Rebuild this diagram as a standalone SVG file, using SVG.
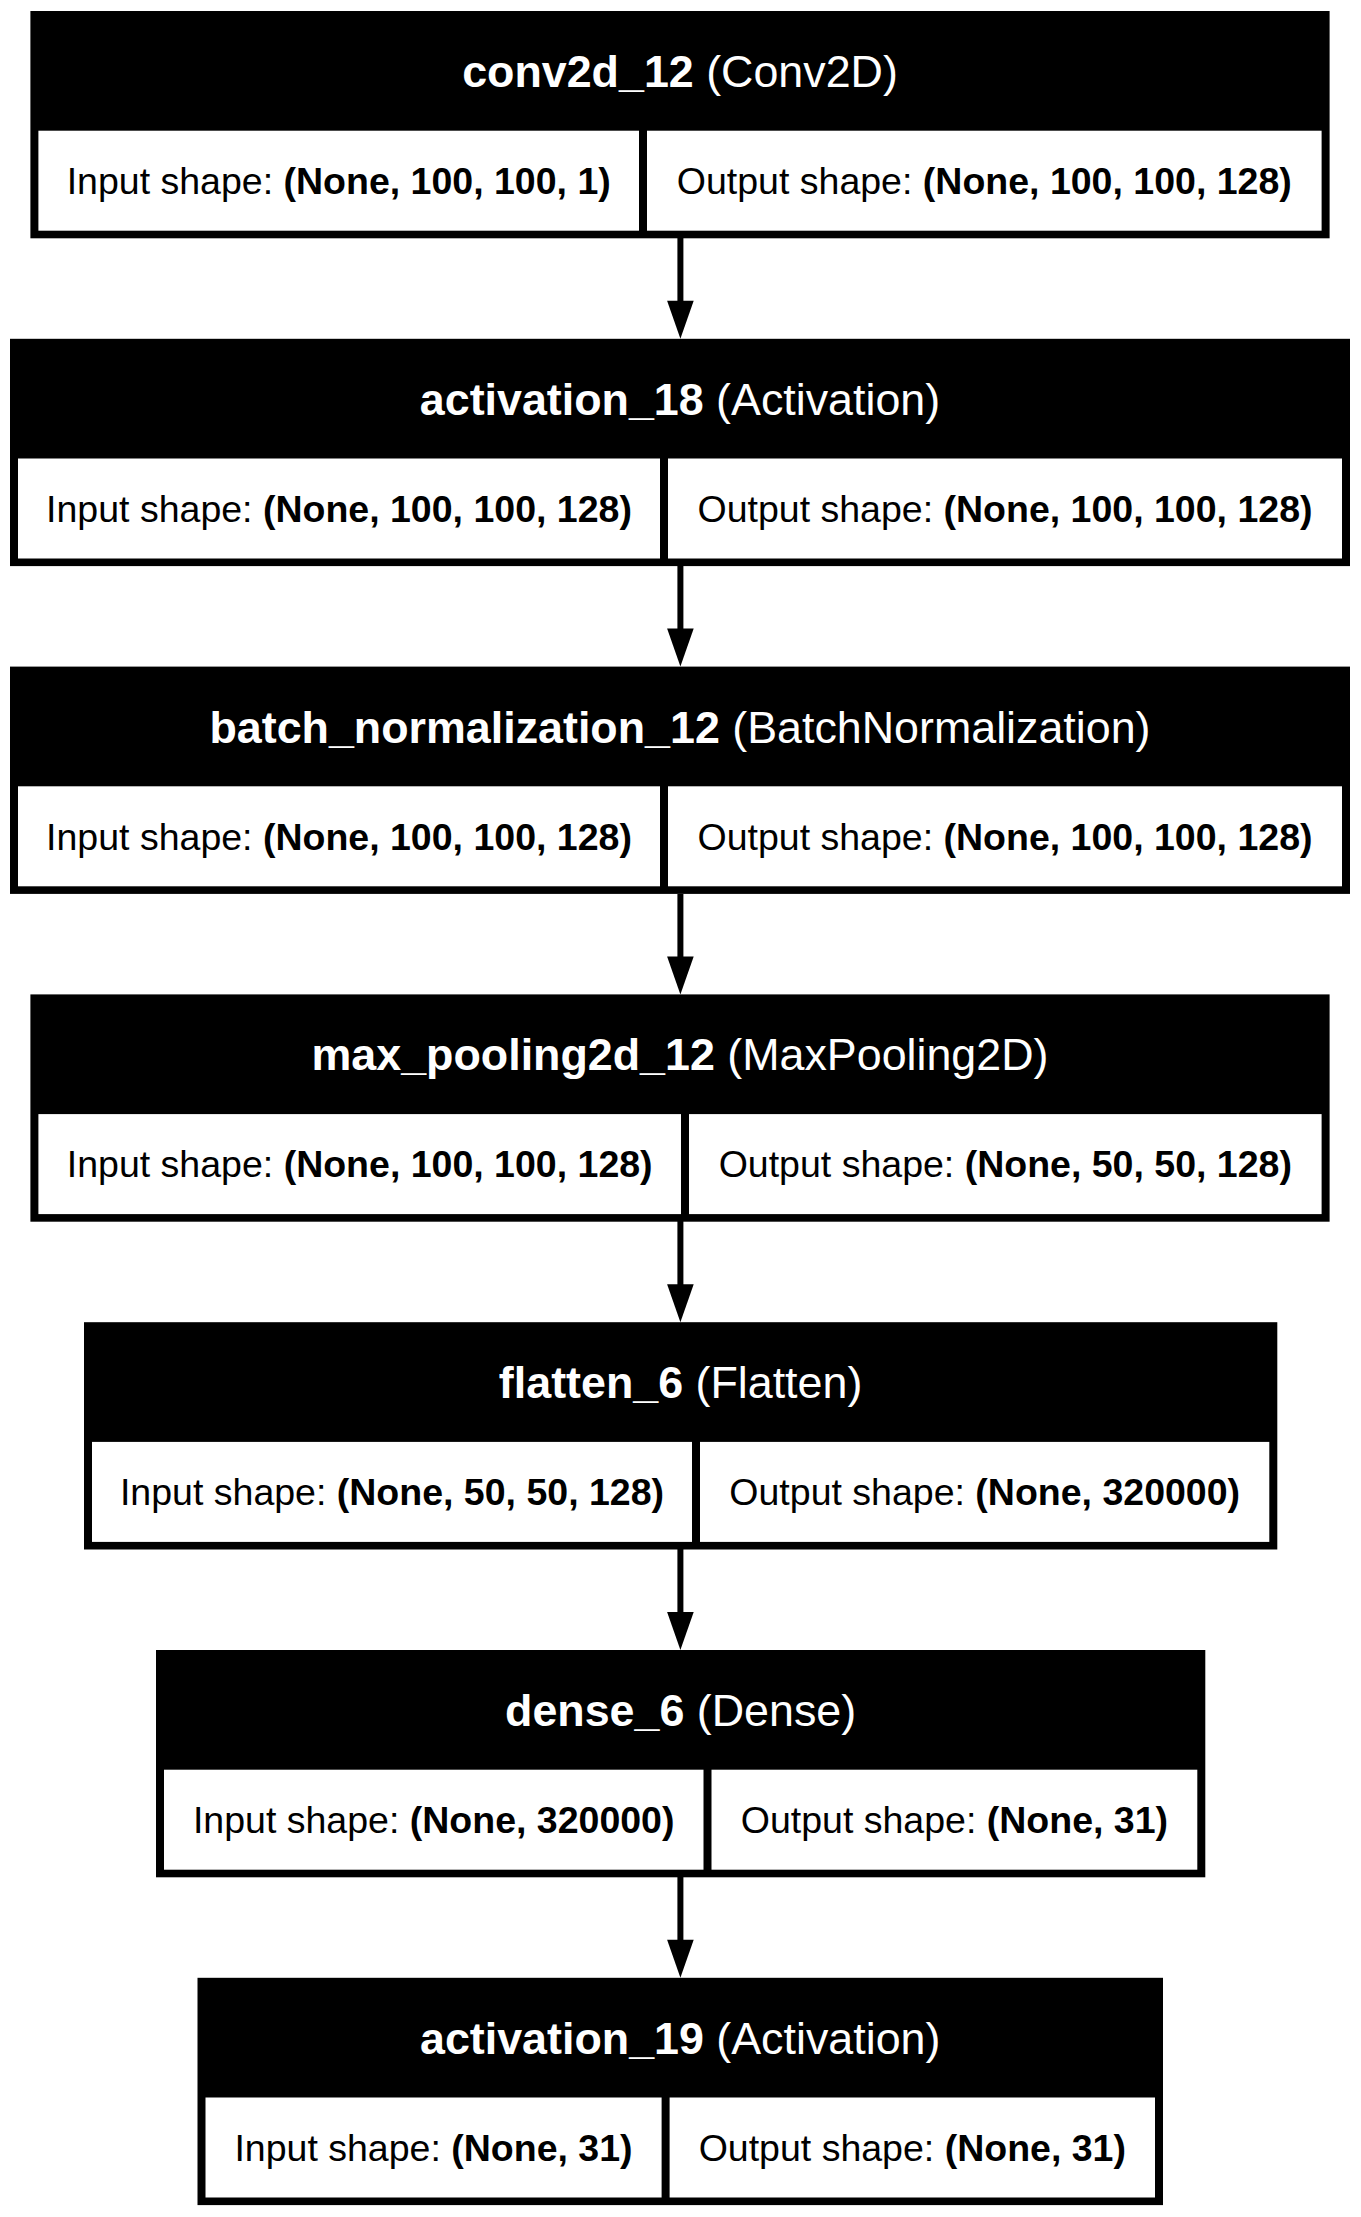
<svg xmlns="http://www.w3.org/2000/svg" width="1361" height="2217" viewBox="0 0 1361 2217">
<style>
.frame{fill:#000}
.cell{fill:#fff}
.hd{font-family:"Liberation Sans",Arial,Helvetica,sans-serif;font-size:44.8px;fill:#fff;text-anchor:middle}
.tx{font-family:"Liberation Sans",Arial,Helvetica,sans-serif;font-size:37.5px;fill:#000;text-anchor:middle}
.b{font-weight:bold}
.edge{stroke:#000;stroke-width:6;fill:none}
.head{fill:#000}
</style>
<rect width="1361" height="2217" fill="#fff"/>
<g id="connectors">
<line class="edge" x1="680.4" y1="238" x2="680.4" y2="301"/><polygon class="head" points="680.4,338.8 667.1,300.8 693.7,300.8"/>
<line class="edge" x1="680.4" y1="566" x2="680.4" y2="629"/><polygon class="head" points="680.4,666.6 667.1,628.6 693.7,628.6"/>
<line class="edge" x1="680.4" y1="894" x2="680.4" y2="957"/><polygon class="head" points="680.4,994.4 667.1,956.4 693.7,956.4"/>
<line class="edge" x1="680.4" y1="1221" x2="680.4" y2="1285"/><polygon class="head" points="680.4,1322.2 667.1,1284.2 693.7,1284.2"/>
<line class="edge" x1="680.4" y1="1549" x2="680.4" y2="1613"/><polygon class="head" points="680.4,1650 667.1,1612 693.7,1612"/>
<line class="edge" x1="680.4" y1="1877" x2="680.4" y2="1940"/><polygon class="head" points="680.4,1977.8 667.1,1939.8 693.7,1939.8"/>
</g>
<g id="conv2d_12">
<rect class="frame" x="30.4" y="11" width="1299.2" height="227.3"/>
<rect class="cell" x="38.4" y="130.7" width="600.6" height="100"/>
<rect class="cell" x="647" y="130.7" width="674.6" height="100"/>
<text class="hd" x="680" y="87"><tspan class="b">conv2d_12</tspan> (Conv2D)</text>
<text class="tx" x="338.7" y="194"><tspan>Input shape: </tspan><tspan class="b">(None, 100, 100, 1)</tspan></text>
<text class="tx" x="984.3" y="194"><tspan>Output shape: </tspan><tspan class="b">(None, 100, 100, 128)</tspan></text>
</g>
<g id="activation_18">
<rect class="frame" x="10" y="338.8" width="1340" height="227.3"/>
<rect class="cell" x="18" y="458.5" width="642" height="100"/>
<rect class="cell" x="668" y="458.5" width="674" height="100"/>
<text class="hd" x="680" y="414.8"><tspan class="b">activation_18</tspan> (Activation)</text>
<text class="tx" x="339" y="521.8"><tspan>Input shape: </tspan><tspan class="b">(None, 100, 100, 128)</tspan></text>
<text class="tx" x="1005" y="521.8"><tspan>Output shape: </tspan><tspan class="b">(None, 100, 100, 128)</tspan></text>
</g>
<g id="batch_normalization_12">
<rect class="frame" x="10" y="666.6" width="1340" height="227.3"/>
<rect class="cell" x="18" y="786.3" width="642" height="100"/>
<rect class="cell" x="668" y="786.3" width="674" height="100"/>
<text class="hd" x="680" y="742.6"><tspan class="b">batch_normalization_12</tspan> (BatchNormalization)</text>
<text class="tx" x="339" y="849.6"><tspan>Input shape: </tspan><tspan class="b">(None, 100, 100, 128)</tspan></text>
<text class="tx" x="1005" y="849.6"><tspan>Output shape: </tspan><tspan class="b">(None, 100, 100, 128)</tspan></text>
</g>
<g id="max_pooling2d_12">
<rect class="frame" x="30.4" y="994.4" width="1299.2" height="227.3"/>
<rect class="cell" x="38.4" y="1114.1" width="642.6" height="100"/>
<rect class="cell" x="689" y="1114.1" width="632.6" height="100"/>
<text class="hd" x="680" y="1070.4"><tspan class="b">max_pooling2d_12</tspan> (MaxPooling2D)</text>
<text class="tx" x="359.7" y="1177.4"><tspan>Input shape: </tspan><tspan class="b">(None, 100, 100, 128)</tspan></text>
<text class="tx" x="1005.3" y="1177.4"><tspan>Output shape: </tspan><tspan class="b">(None, 50, 50, 128)</tspan></text>
</g>
<g id="flatten_6">
<rect class="frame" x="84" y="1322.2" width="1193.3" height="227.3"/>
<rect class="cell" x="92" y="1441.9" width="600" height="100"/>
<rect class="cell" x="700" y="1441.9" width="569.3" height="100"/>
<text class="hd" x="680.6" y="1398.2"><tspan class="b">flatten_6</tspan> (Flatten)</text>
<text class="tx" x="392" y="1505.2"><tspan>Input shape: </tspan><tspan class="b">(None, 50, 50, 128)</tspan></text>
<text class="tx" x="984.7" y="1505.2"><tspan>Output shape: </tspan><tspan class="b">(None, 320000)</tspan></text>
</g>
<g id="dense_6">
<rect class="frame" x="156" y="1650" width="1049.3" height="227.3"/>
<rect class="cell" x="164" y="1769.7" width="539.5" height="100"/>
<rect class="cell" x="711.5" y="1769.7" width="485.8" height="100"/>
<text class="hd" x="680.6" y="1726"><tspan class="b">dense_6</tspan> (Dense)</text>
<text class="tx" x="433.7" y="1833"><tspan>Input shape: </tspan><tspan class="b">(None, 320000)</tspan></text>
<text class="tx" x="954.4" y="1833"><tspan>Output shape: </tspan><tspan class="b">(None, 31)</tspan></text>
</g>
<g id="activation_19">
<rect class="frame" x="197.5" y="1977.8" width="965.5" height="227.3"/>
<rect class="cell" x="205.5" y="2097.5" width="456.1" height="100"/>
<rect class="cell" x="669.6" y="2097.5" width="485.4" height="100"/>
<text class="hd" x="680.2" y="2053.8"><tspan class="b">activation_19</tspan> (Activation)</text>
<text class="tx" x="433.5" y="2160.8"><tspan>Input shape: </tspan><tspan class="b">(None, 31)</tspan></text>
<text class="tx" x="912.3" y="2160.8"><tspan>Output shape: </tspan><tspan class="b">(None, 31)</tspan></text>
</g>
</svg>
